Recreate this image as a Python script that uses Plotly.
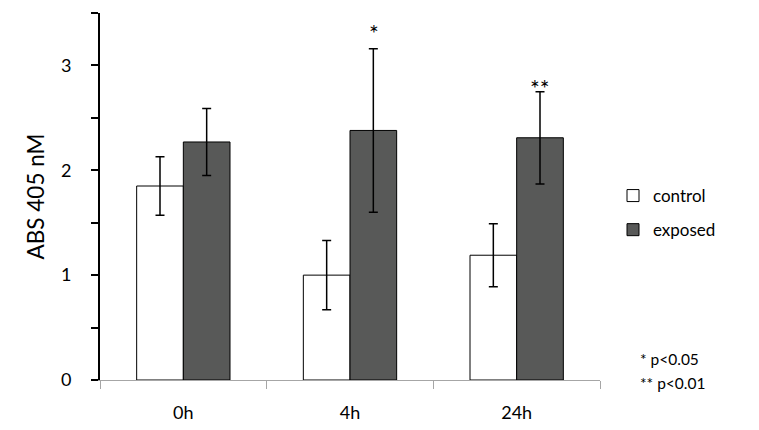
import plotly.graph_objects as go

categories = ["0h", "4h", "24h"]
control_vals = [1.85, 1.00, 1.19]
control_err = [0.28, 0.33, 0.30]
exposed_vals = [2.27, 2.38, 2.31]
exposed_err = [0.32, 0.78, 0.44]
sig_labels = ["", "*", "**"]
y_tickvals = [0, 0.5, 1, 1.5, 2, 2.5, 3, 3.5]
y_ticktext = ["0", "", "1", "", "2", "", "3", ""]
footnotes = ["* p<0.05", "** p<0.01"]

FONT = "Lato"
sig_yshift = [0, 16, 4]

fig = go.Figure()
fig.add_trace(go.Bar(
    x=categories, y=control_vals, name="control",
    marker=dict(color="white", line=dict(color="black", width=1)),
    error_y=dict(type="data", array=control_err, color="black", thickness=1.5, width=4.5),
    legendgroup="a",
))
fig.add_trace(go.Bar(
    x=categories, y=exposed_vals, name="exposed",
    marker=dict(color="#585958", line=dict(color="black", width=1)),
    error_y=dict(type="data", array=exposed_err, color="black", thickness=1.5, width=4.5),
    legendgroup="b",
))

for c, v, e, s, ys in zip(categories, exposed_vals, exposed_err, sig_labels, sig_yshift):
    if s:
        fig.add_annotation(x=c, y=v + e, text=s, showarrow=False, xshift=23.5,
                           yshift=ys, font=dict(family=FONT, size=23, color="#000000"))

for i, t in enumerate(footnotes):
    fig.add_annotation(xref="paper", yref="paper", x=1.076, y=0.058 - i * 0.065,
                       text=t, showarrow=False, xanchor="left", yanchor="middle",
                       font=dict(family=FONT, size=15.5, color="black"))

fig.update_layout(
    width=759, height=430,
    margin=dict(l=100, r=159, t=13, b=50, autoexpand=False),
    paper_bgcolor="white", plot_bgcolor="white",
    barmode="group", bargap=0.44, bargroupgap=0,
    showlegend=True,
    legend=dict(x=1.026, y=0.455, xanchor="left", yanchor="middle",
                font=dict(family=FONT, size=17, color="black"),
                traceorder="grouped", tracegroupgap=9, itemwidth=30),
    font=dict(family=FONT, size=17, color="black"),
)
fig.update_xaxes(
    showline=True, linecolor="#a6a6a6", linewidth=1,
    ticks="outside", tickson="boundaries", tickcolor="#a6a6a6", ticklen=8, tickwidth=1,
    tickfont=dict(family=FONT, size=18, color="black"), ticklabelstandoff=16,
    showgrid=False, zeroline=False, automargin=False,
)
fig.update_yaxes(
    range=[0, 3.5], tickvals=y_tickvals, ticktext=y_ticktext,
    showline=True, linecolor="black", linewidth=2,
    ticks="outside", tickcolor="black", ticklen=7, tickwidth=2,
    tickfont=dict(family=FONT, size=18, color="black"), ticklabelstandoff=16,
    showgrid=False, zeroline=False, automargin=False,
    title=dict(text="ABS 405 nM", font=dict(family=FONT, size=22.5, color="black"), standoff=10),
)

fig.write_html("out.html", config={"displayModeBar": False},
               post_script="document.body.style.margin='0px';")
